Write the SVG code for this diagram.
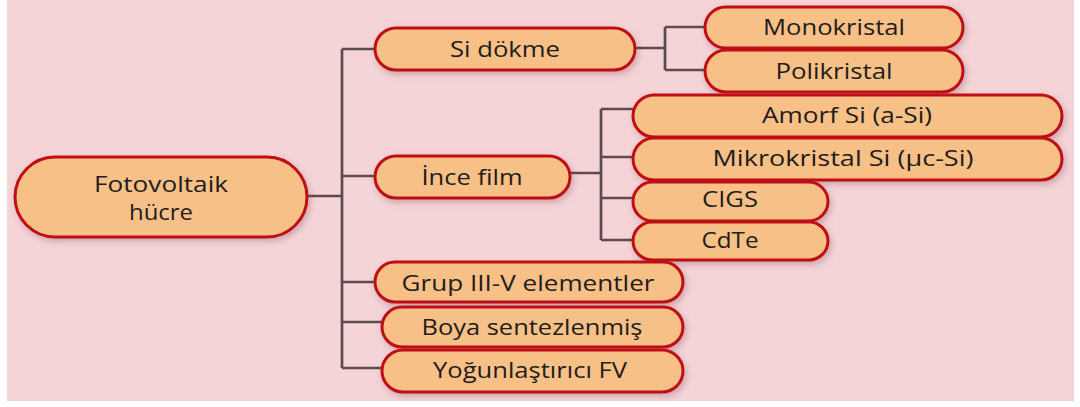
<svg xmlns="http://www.w3.org/2000/svg" width="1080" height="407" viewBox="0 0 1080 407">
<defs>
<filter id="sh" x="-10%" y="-30%" width="120%" height="170%">
<feDropShadow dx="2" dy="3" stdDeviation="3" flood-color="#6a3a40" flood-opacity="0.3"/>
</filter>
<style>
.n{fill:#f6c086;stroke:#c00d12;stroke-width:3;filter:url(#sh)}
.t{font-family:"Open Sans","Liberation Sans",sans-serif;font-size:22px;font-weight:500;fill:#221c1c;text-anchor:middle}
.c{fill:none;stroke:#5b4a4f;stroke-width:2.7}
</style>
</defs>
<rect x="0" y="0" width="1080" height="407" fill="#ffffff"/>
<rect x="7" y="0" width="1067" height="401" fill="#f4d4d7"/>
<g id="connectors" class="c">
<path d="M307 196H342M342 49V368M342 49H375M342 176H375M342 282H375M342 322H382M342 368H382"/>
<path d="M635 48H665M665 27V70M665 27H705M665 70H705"/>
<path d="M570 173H601M601 109V240M601 109H633M601 157H633M601 198H633M601 240H633"/>
</g>
<g id="n-root"><rect class="n" x="15" y="157" width="292" height="80" rx="40"/><text class="t" x="161" y="192" textLength="134" lengthAdjust="spacingAndGlyphs">Fotovoltaik</text><text class="t" x="161" y="220" textLength="64" lengthAdjust="spacingAndGlyphs">hücre</text></g>
<g id="n-si"><rect class="n" x="375" y="28" width="260" height="42" rx="21"/><text class="t" x="505" y="57" textLength="110" lengthAdjust="spacingAndGlyphs">Si dökme</text></g>
<g id="n-ince"><rect class="n" x="375" y="156" width="195" height="42" rx="21"/><text class="t" x="472" y="185" textLength="101" lengthAdjust="spacingAndGlyphs">İnce film</text></g>
<g id="n-mono"><rect class="n" x="705" y="7" width="258" height="41" rx="20.5"/><text class="t" x="834" y="35" textLength="142" lengthAdjust="spacingAndGlyphs">Monokristal</text></g>
<g id="n-poli"><rect class="n" x="705" y="50" width="258" height="42" rx="21"/><text class="t" x="834" y="79" textLength="117" lengthAdjust="spacingAndGlyphs">Polikristal</text></g>
<g id="n-amorf"><rect class="n" x="633" y="95" width="429" height="42" rx="21"/><text class="t" x="847" y="123" textLength="170" lengthAdjust="spacingAndGlyphs">Amorf Si (a-Si)</text></g>
<g id="n-mikro"><rect class="n" x="633" y="138" width="429" height="42" rx="21"/><text class="t" x="843" y="166" textLength="261" lengthAdjust="spacingAndGlyphs">Mikrokristal Si (µc-Si)</text></g>
<g id="n-cigs"><rect class="n" x="633" y="182" width="195" height="39" rx="19.5"/><text class="t" x="730" y="207" textLength="56" lengthAdjust="spacingAndGlyphs">CIGS</text></g>
<g id="n-cdte"><rect class="n" x="633" y="222" width="195" height="38" rx="19"/><text class="t" x="730" y="248" textLength="57" lengthAdjust="spacingAndGlyphs">CdTe</text></g>
<g id="n-grup"><rect class="n" x="375" y="262" width="308" height="40" rx="20"/><text class="t" x="528" y="291" textLength="253" lengthAdjust="spacingAndGlyphs">Grup III-V elementler</text></g>
<g id="n-boya"><rect class="n" x="382" y="307" width="301" height="40" rx="20"/><text class="t" x="532" y="335" textLength="221" lengthAdjust="spacingAndGlyphs">Boya sentezlenmiş</text></g>
<g id="n-yogun"><rect class="n" x="382" y="350" width="301" height="42" rx="21"/><text class="t" x="530" y="378" textLength="194" lengthAdjust="spacingAndGlyphs">Yoğunlaştırıcı FV</text></g>
</svg>
